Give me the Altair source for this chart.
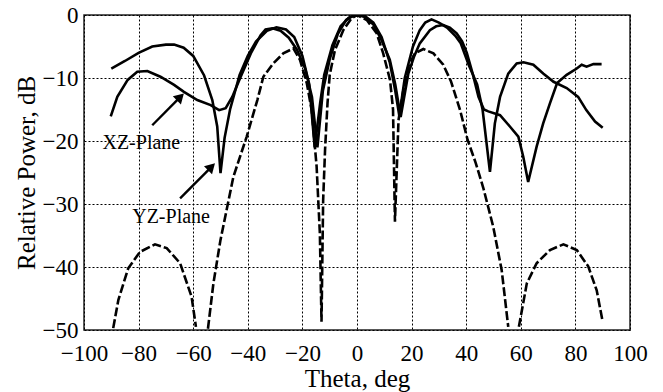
import altair as alt
import pandas as pd

# Solid curve 1 (deep nulls near -50 and +49)
a_theta = [-90, -85, -80, -75, -70, -67, -63.5, -60, -56, -53, -51.2, -50, -48.5, -46.5, -43, -40, -37, -33,
           -29.5, -26, -23, -20, -17.5, -15.5, -13.5, -12, -9, -6, -3, 0, 3, 6, 9, 12, 14, 15.5, 17.5, 20.5,
           23, 25, 27.3, 30, 33, 36, 38, 41, 44, 46, 48.7, 50.5, 52.4, 55.4, 58.5, 61, 64.6, 68.2, 72, 76.8,
           81, 84, 87.2, 90]
a_db = [-8.5, -7.3, -6.0, -5.0, -4.7, -4.7, -5.2, -6.5, -9.6, -13.5, -17.7, -25.1, -19.5, -15, -9.5, -6.5, -4.2,
        -2.5, -1.95, -2.3, -3.5, -6.5, -11, -21, -14, -9.5, -4.8, -1.8, -0.4, 0, -0.2, -1.2, -3.5, -7.5, -12,
        -16, -10, -5, -2.4, -1.2, -0.7, -1.2, -2, -3.3, -4.5, -8, -11, -15, -24.9, -17.2, -13, -9.3, -7.7,
        -7.5, -7.9, -9.3, -10.6, -11.6, -13, -15.1, -16.9, -17.9]

# Solid curve 2 (shallow dip near -50, null near +63)
b_theta = [-90.2, -87.8, -84, -80.5, -76.8, -72, -67, -63.4, -58.5, -53.6, -50.5, -48.1, -45.7, -42.6, -38.9,
           -35.3, -33.5, -31, -28, -25, -22, -19, -16.5, -14.5, -12.5, -10, -7, -4, -1, 0, 3, 6, 9, 12, 14,
           16, 18.8, 21, 23, 26.7, 29, 31.6, 34, 36.5, 38.5, 40.2, 42.5, 44.5, 46.5, 48.1, 52.4, 56, 59.1,
           60.9, 62.7, 65.8, 68.2, 70.7, 73.3, 76.8, 80.5, 82.3, 84.1, 86.6, 89.6]
b_db = [-16.1, -13, -10.3, -9, -8.9, -9.8, -11.1, -12.2, -13.5, -14.3, -15.1, -14.8, -13, -9.8, -6.1, -3.2,
        -2.3, -2.1, -2.5, -3.6, -5.5, -8.5, -13, -21, -12, -7, -3, -0.8, 0, 0, -0.3, -1.5, -4, -7.1, -11,
        -16.2, -9.3, -6.5, -4.5, -2.4, -1.8, -1.6, -2.0, -2.9, -4.2, -6, -9.5, -13, -15, -15.3, -15.9, -17.7,
        -19.3, -22.5, -26.5, -20.9, -17.2, -14, -10.8, -9.5, -8.5, -7.9, -8.2, -7.8, -7.8]

# Dashed curve, three visible segments
d1_theta = [-89.3, -87.4, -83.8, -79.5, -74, -69.7, -64.8, -60.6, -59]
d1_db = [-49.7, -45.2, -40.2, -37.6, -36.4, -37, -39.4, -44.7, -49.5]
d2_theta = [-54.6, -52.6, -50, -45.3, -40.4, -36.5, -34.3, -30.7, -27, -23.3, -20.9, -18.4, -16.6, -14.8,
            -13.6, -13, -12.4, -11.7, -10.8, -10, -8.1, -5, -2, 0, 3.6, 7.2, 9.6, 12.1, 13.2, 13.9, 15.2, 17,
            18.8, 21.2, 24.3, 28, 31.6, 34.4, 37.7, 40.5, 43.5, 46.3, 49.9, 53, 55.4]
d2_db = [-49.8, -42.6, -35.7, -25.7, -19.3, -13.5, -9.8, -7.7, -6.1, -5.3, -7.1, -10.8, -15.1, -24, -34.7,
         -48.7, -29.4, -21.4, -14, -9.5, -5.6, -2.4, -0.5, 0, -0.8, -2.9, -6.1, -10.3, -15, -32.8, -16.7,
         -11.9, -8.2, -6.1, -5.4, -6.1, -7.9, -10.5, -15, -19.8, -23.5, -27.5, -33.6, -40.5, -49.5]
d3_theta = [59.3, 62.2, 65.8, 70.7, 75.6, 80.5, 84.7, 87.8, 90]
d3_db = [-49.5, -42.6, -39.4, -37.3, -36.4, -37.3, -39.9, -43.7, -48.7]

# Annotations
label_text = ["XZ-Plane", "YZ-Plane"]
label_theta = [-79, -68.1]
label_db = [-21.2, -33.0]
arrow_start_theta = [-75, -64.8]
arrow_start_db = [-17.5, -29.1]
arrow_head_theta = [-64.7, -53.3]
arrow_head_db = [-13.0, -24.1]

rows = []
for s, th, db in [("A", a_theta, a_db), ("B", b_theta, b_db)]:
    for i, (t, d) in enumerate(zip(th, db)):
        rows.append({"series": s, "order": i, "theta": t, "db": d})
solid = pd.DataFrame(rows)

rows = []
for s, th, db in [("d1", d1_theta, d1_db), ("d2", d2_theta, d2_db), ("d3", d3_theta, d3_db)]:
    for i, (t, d) in enumerate(zip(th, db)):
        rows.append({"series": s, "order": i, "theta": t, "db": d})
dashed = pd.DataFrame(rows)

arrows = pd.DataFrame({
    "id": [0, 0, 1, 1],
    "order": [0, 1, 0, 1],
    "theta": [arrow_start_theta[0], arrow_head_theta[0], arrow_start_theta[1], arrow_head_theta[1]],
    "db": [arrow_start_db[0], arrow_head_db[0], arrow_start_db[1], arrow_head_db[1]],
})
heads = pd.DataFrame({"theta": arrow_head_theta, "db": arrow_head_db})
labels = pd.DataFrame({"text": label_text, "theta": label_theta, "db": label_db})

FONT = "Liberation Serif"

xscale = alt.Scale(domain=[-100, 100], nice=False, zero=False)
yscale = alt.Scale(domain=[-50, 0], nice=False, zero=False)

xaxis = alt.Axis(values=list(range(-100, 101, 20)), grid=True, gridDash=[2, 2], gridColor="black",
                 gridWidth=1, gridOpacity=1, ticks=False, tickSize=0, domain=False, labelFont=FONT,
                 labelFontSize=23, labelColor="black", labelPadding=12, labelFlush=False, labelOverlap=False,
                 title="Theta, deg", titleFont=FONT, titleFontSize=25, titleFontWeight="normal",
                 titleColor="black", titleY=56, titleBaseline="alphabetic")
yaxis = alt.Axis(values=list(range(-50, 1, 5)), grid=True, gridDash=[2, 2], gridColor="black",
                 gridWidth=1, gridOpacity=1, ticks=False, tickSize=0, domain=False, labelFont=FONT,
                 labelFontSize=23, labelColor="black", labelPadding=6, labelFlush=False, labelOverlap=False,
                 labelExpr="datum.value % 10 == 0 ? datum.label : ''",
                 title="Relative Power, dB", titleFont=FONT, titleFontSize=25, titleFontWeight="normal",
                 titleColor="black", titleX=-50, titleBaseline="alphabetic")

base_x = alt.X("theta:Q", scale=xscale, axis=xaxis)
base_y = alt.Y("db:Q", scale=yscale, axis=yaxis)

solid_layer = alt.Chart(solid).mark_line(color="black", strokeWidth=2.6, clip=True).encode(
    x=base_x, y=base_y, detail="series:N", order="order:Q")

dashed_layer = alt.Chart(dashed).mark_line(color="black", strokeWidth=2.6, strokeDash=[9, 3], clip=True).encode(
    x=alt.X("theta:Q", scale=xscale), y=alt.Y("db:Q", scale=yscale), detail="series:N", order="order:Q")

arrow_layer = alt.Chart(arrows).mark_line(color="black", strokeWidth=2.4).encode(
    x=alt.X("theta:Q", scale=xscale), y=alt.Y("db:Q", scale=yscale), detail="id:N", order="order:Q")

head_layer = alt.Chart(heads).mark_point(shape="triangle-up", filled=True, color="black", opacity=1,
                                         size=130, angle=45).encode(
    x=alt.X("theta:Q", scale=xscale), y=alt.Y("db:Q", scale=yscale))

text_layer = alt.Chart(labels).mark_text(font=FONT, fontSize=20, color="black", align="center",
                                         baseline="alphabetic").encode(
    x=alt.X("theta:Q", scale=xscale), y=alt.Y("db:Q", scale=yscale), text="text:N")

chart = alt.layer(solid_layer, dashed_layer, arrow_layer, head_layer, text_layer).properties(
    width=546, height=315,
    autosize=alt.AutoSizeParams(type="none"),
    padding={"left": 84, "top": 15, "right": 33, "bottom": 62},
    background="white",
).configure_view(stroke="#222", strokeWidth=1.5)

chart.save("out.html", embed_options={"renderer": "svg", "actions": False})
